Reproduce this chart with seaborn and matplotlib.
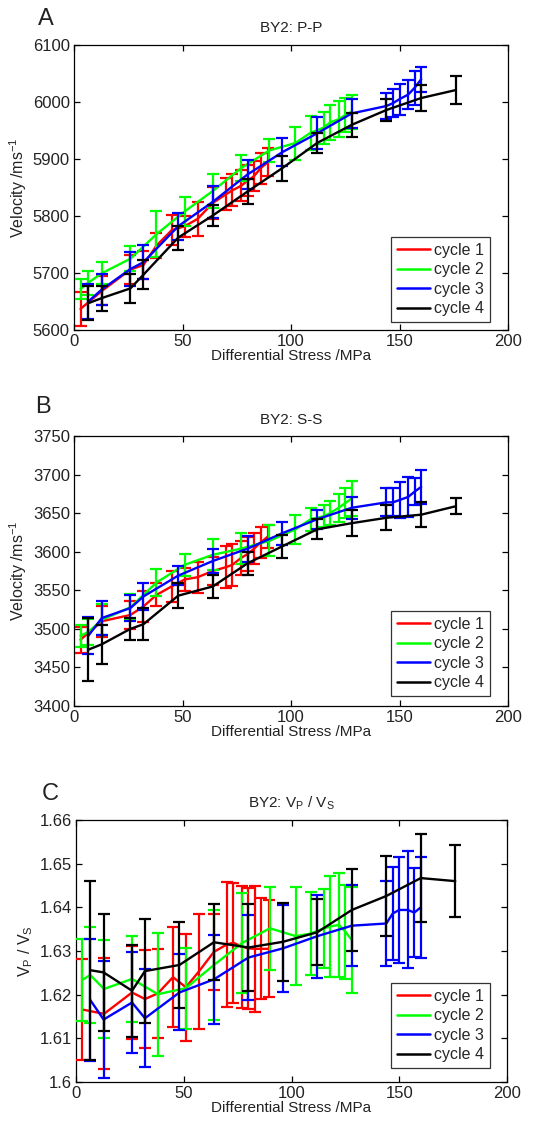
import matplotlib
matplotlib.use("Agg")
import matplotlib.pyplot as plt
from matplotlib.lines import Line2D
import numpy as np
import pandas as pd
import seaborn as sns

# ---------------- data ----------------
cycles = ["cycle 1", "cycle 2", "cycle 3", "cycle 4"]

x_c1 = [3, 13, 26, 32, 38, 45, 51, 57, 64, 70, 73, 77, 80, 83, 86, 89.5]
x_c2 = [3, 6.6, 13, 26, 38, 51, 64, 77, 90, 102, 109, 115, 118, 122, 125, 128]
x_c3 = [6.6, 12.8, 26, 32, 48, 64, 80, 96, 112, 128, 144, 147, 150, 154, 157, 160]
x_c4 = [6.6, 12.8, 26, 32, 48, 64, 80, 96, 112, 128, 144, 160, 176]

# Panel A: P-P velocity
pp_c1 = [5637, 5669, 5706, 5714, 5748, 5775, 5782, 5795, 5823, 5838, 5845, 5853, 5862, 5870, 5884, 5895]
pp_c1_err = [30, 25, 25, 25, 22, 26, 18, 30, 28, 28, 28, 27, 27, 27, 27, 25]
pp_c2 = [5672, 5683, 5700, 5725, 5768, 5808, 5844, 5884, 5915, 5928, 5946, 5955, 5964, 5970, 5977, 5983]
pp_c2_err = [17, 21, 19, 22, 40, 25, 30, 23, 20, 29, 30, 28, 30, 32, 30, 30]
pp_c3 = [5650, 5671, 5707, 5719, 5782, 5825, 5873, 5912, 5945, 5980, 5993, 5998, 6005, 6013, 6025, 6040]
pp_c3_err = [30, 28, 29, 30, 24, 28, 25, 25, 28, 25, 22, 25, 27, 25, 30, 22]
pp_c4 = [5647, 5656, 5673, 5697, 5762, 5801, 5843, 5884, 5928, 5960, 5986, 6007, 6021]
pp_c4_err = [30, 22, 26, 25, 21, 19, 22, 22, 18, 21, 20, 23, 24]

# Panel B: S-S velocity
ss_c1 = [3486, 3510, 3518, 3529, 3544, 3555, 3564, 3567, 3575, 3580, 3583, 3592, 3597, 3604, 3612, 3620]
ss_c1_err = [17, 20, 18, 20, 15, 20, 15, 20, 18, 27, 27, 22, 22, 20, 20, 15]
ss_c2 = [3491, 3496, 3512, 3528, 3560, 3583, 3596, 3604, 3614, 3629, 3642, 3646, 3650, 3657, 3663, 3669]
ss_c2_err = [14, 17, 20, 17, 18, 14, 20, 20, 20, 19, 15, 14, 16, 18, 19, 23]
ss_c3 = [3491, 3514, 3527, 3542, 3569, 3588, 3604, 3624, 3642, 3657, 3664, 3664, 3667, 3671, 3678, 3684]
ss_c3_err = [24, 22, 17, 17, 12, 15, 17, 15, 12, 14, 18, 18, 23, 26, 17, 22]
ss_c4 = [3473, 3480, 3500, 3506, 3543, 3555, 3585, 3607, 3629, 3637, 3644, 3648, 3659]
ss_c4_err = [41, 25, 14, 21, 16, 15, 15, 15, 13, 17, 16, 16, 10]

# Panel C: Vp/Vs
vr_c1 = [1.6166, 1.6156, 1.6205, 1.6190, 1.6203, 1.6240, 1.6217, 1.6253, 1.6298, 1.6315, 1.6319, 1.6310, 1.6306, 1.6305, 1.6305, 1.6305]
vr_c1_err = [0.0115, 0.0127, 0.0107, 0.0112, 0.0102, 0.0114, 0.0122, 0.0131, 0.0087, 0.0144, 0.0137, 0.0140, 0.0139, 0.0145, 0.0116, 0.0111]
vr_c2 = [1.6234, 1.6245, 1.6213, 1.6236, 1.6201, 1.6215, 1.6268, 1.6318, 1.6352, 1.6334, 1.6340, 1.6352, 1.6356, 1.6360, 1.6344, 1.6325]
vr_c2_err = [0.0094, 0.0109, 0.0113, 0.0099, 0.0141, 0.0093, 0.0125, 0.0114, 0.0095, 0.0113, 0.0094, 0.0090, 0.0115, 0.0119, 0.0107, 0.0122]
vr_c3 = [1.6188, 1.6143, 1.6182, 1.6146, 1.6205, 1.6235, 1.6285, 1.6306, 1.6334, 1.6358, 1.6363, 1.6386, 1.6394, 1.6394, 1.6388, 1.6400]
vr_c3_err = [0.0139, 0.0134, 0.0115, 0.0112, 0.0087, 0.0102, 0.0098, 0.0100, 0.0095, 0.0093, 0.0097, 0.0106, 0.0122, 0.0134, 0.0101, 0.0115]
vr_c4 = [1.6256, 1.6251, 1.6209, 1.6254, 1.6268, 1.6320, 1.6308, 1.6321, 1.6343, 1.6394, 1.6426, 1.6467, 1.6460]
vr_c4_err = [0.0205, 0.0134, 0.0105, 0.0119, 0.0099, 0.0087, 0.0099, 0.0090, 0.0075, 0.0094, 0.0092, 0.0100, 0.0082]

colors = ["#ff0000", "#00ff00", "#0000ff", "#000000"]

# ---------------- style ----------------
sns.set_theme(style="ticks")
plt.rcParams['font.family'] = ['Liberation Sans', 'DejaVu Sans']
plt.rcParams['mathtext.fontset'] = 'custom'
plt.rcParams['mathtext.rm'] = 'Liberation Sans'
plt.rcParams['mathtext.it'] = 'Liberation Sans'
plt.rcParams['axes.linewidth'] = 0.9
plt.rcParams['axes.edgecolor'] = 'black'

FS = 11
TFS = 12

fig = plt.figure(figsize=(5.42, 11.24), dpi=100)
W, H = 542, 1124


def add_axes(l, t, r, b):
    return fig.add_axes([l / W, 1 - b / H, (r - l) / W, (b - t) / H])


axA = add_axes(74, 45, 508, 330)
axB = add_axes(74, 436, 508, 706)
axC = add_axes(76, 820, 507, 1082)


def draw(ax, xs, ys, es, title, ylim, yticks, ylabel, yfmt, legend_anchor):
    for i in range(4):
        df = pd.DataFrame({"x": xs[i], "y": ys[i]})
        sns.lineplot(data=df, x="x", y="y", ax=ax, color=colors[i], lw=1.7,
                     label=cycles[i], zorder=3 + i, legend=False)
        ax.errorbar(xs[i], ys[i], yerr=es[i], fmt="none", ecolor=colors[i],
                    elinewidth=1.6, capsize=4.2, capthick=1.6, zorder=3 + i)
    ax.set_xlim(0, 200)
    ax.set_ylim(*ylim)
    ax.set_xticks([0, 50, 100, 150, 200])
    ax.set_yticks(yticks)
    ax.set_yticklabels([yfmt(v) for v in yticks])
    ax.tick_params(direction="in", top=True, right=True, length=4, width=0.9,
                   labelsize=TFS, colors="black", pad=3)
    for lab in ax.get_xticklabels() + ax.get_yticklabels():
        lab.set_color("#222222")
    ax.set_xlabel("Differential Stress /MPa", fontsize=FS, labelpad=0, color="#222222")
    ax.set_ylabel(ylabel, fontsize=FS + 0.5, labelpad=3, color="#222222")
    ax.set_title(title, fontsize=FS, pad=9, color="#222222")
    for s in ax.spines.values():
        s.set_visible(True)
        s.set_color("black")
    handles = [Line2D([], [], color=c, lw=1.8) for c in colors]
    leg = ax.legend(handles, cycles, loc="lower right", bbox_to_anchor=legend_anchor,
                    borderaxespad=0, fontsize=FS + 0.5, frameon=True, fancybox=False,
                    edgecolor="black", handlelength=2.1, handletextpad=0.25,
                    labelspacing=0.28, borderpad=0.35)
    leg.get_frame().set_linewidth(0.9)
    leg.set_zorder(20)


draw(axA, [x_c1, x_c2, x_c3, x_c4], [pp_c1, pp_c2, pp_c3, pp_c4],
     [pp_c1_err, pp_c2_err, pp_c3_err, pp_c4_err], "BY2: P-P",
     (5600, 6100), [5600, 5700, 5800, 5900, 6000, 6100],
     "Velocity /ms$^{-1}$", lambda v: f"{v:d}", (1 - 18 / 434, 8 / 285))

draw(axB, [x_c1, x_c2, x_c3, x_c4], [ss_c1, ss_c2, ss_c3, ss_c4],
     [ss_c1_err, ss_c2_err, ss_c3_err, ss_c4_err], "BY2: S-S",
     (3400, 3750), [3400, 3450, 3500, 3550, 3600, 3650, 3700, 3750],
     "Velocity /ms$^{-1}$", lambda v: f"{v:d}", (1 - 18 / 434, 10 / 270))

draw(axC, [x_c1, x_c2, x_c3, x_c4], [vr_c1, vr_c2, vr_c3, vr_c4],
     [vr_c1_err, vr_c2_err, vr_c3_err, vr_c4_err], "BY2: V$_\\mathregular{P}$ / V$_\\mathregular{S}$",
     (1.60, 1.66), [1.60, 1.61, 1.62, 1.63, 1.64, 1.65, 1.66],
     "V$_\\mathregular{P}$ / V$_\\mathregular{S}$",
     lambda v: ("1.6" if abs(v - 1.6) < 1e-9 else f"{v:.2f}"), (1 - 17 / 431, 14 / 262))

fig.text(38 / W, 1 - 25 / H, "A", fontsize=17, color="#222222", va="baseline")
fig.text(35 / W, 1 - 413 / H, "B", fontsize=17, color="#222222", va="baseline")
fig.text(42 / W, 1 - 800 / H, "C", fontsize=17, color="#222222", va="baseline")

fig.savefig("out.png", dpi=100, facecolor="white")
